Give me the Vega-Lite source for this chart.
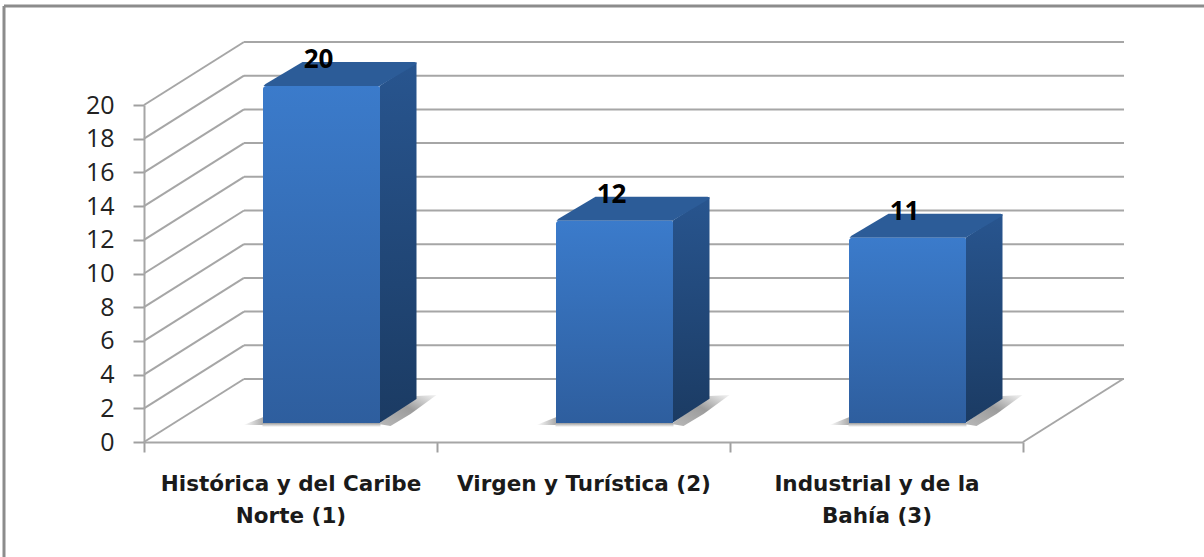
{
"$schema":"https://vega.github.io/schema/vega-lite/v6.json",
"width":879,"height":337,
"autosize":{"type":"none"},
"padding":{"left":144,"top":105,"right":181,"bottom":115},
"background":"white",
"config":{"view":{"stroke":null}},
"datasets":{
 "bars":[{"zona":"Histórica y del Caribe Norte (1)","valor":20},{"zona":"Virgen y Turística (2)","valor":12},{"zona":"Industrial y de la Bahía (3)","valor":11}],
 "ticks":[{"t":0},{"t":2},{"t":4},{"t":6},{"t":8},{"t":10},{"t":12},{"t":14},{"t":16},{"t":18},{"t":20}]
},
"data":{"name":"bars"},
"encoding":{
 "x":{"field":"zona","type":"nominal","sort":null,"scale":{"paddingInner":0,"paddingOuter":0},
   "axis":{"title":null,"labelAngle":0,"labelFont":"DejaVu Sans","labelFontSize":21.5,"labelFontWeight":"bold","labelColor":"#1a1a1a","labelLimit":400,"labelPadding":21,"labelLineHeight":32,"labelBaseline":"top","tickColor":"#a0a0a0","tickWidth":2,"tickSize":10,"domainColor":"#a6a6a6","domainWidth":2,"tickBand":"extent","labelExpr":"split(replace(replace(datum.label,' Norte','|Norte'),' Bahía','|Bahía'),'|')"}},
 "y":{"field":"valor","type":"quantitative","stack":null,"scale":{"domain":[0,20],"nice":false},
    "axis":{"title":null,"values":[0,2,4,6,8,10,12,14,16,18,20],"tickCount":11,"grid":false,"labelOverlap":false,"labelFont":"Open Sans","labelFontSize":25,"labelColor":"#222222","labelPadding":19,"tickColor":"#a0a0a0","tickWidth":2,"tickSize":11,"domainColor":"#a6a6a6","domainWidth":2}}
},
"layer":[
 {"data":{"name":"ticks"},
  "mark":{"type":"rule","color":"#a6a6a6","strokeWidth":2,"xOffset":100,"x2Offset":101,"yOffset":-63},
  "encoding":{"x":{"value":0},"x2":{"value":879},"y":{"field":"t","type":"quantitative"}}},
 {"data":{"name":"ticks"},
  "mark":{"type":"point","shape":"M0 0L100 -63","filled":false,"size":4,"stroke":"#a6a6a6","strokeWidth":2,"opacity":1},
  "encoding":{"x":{"value":0},"y":{"field":"t","type":"quantitative"}}},
 {"data":{"values":[{"t":0}]},
  "mark":{"type":"point","shape":"M0 0L100 -63","filled":false,"size":4,"stroke":"#a6a6a6","strokeWidth":2,"opacity":1},
  "encoding":{"x":{"value":879},"y":{"field":"t","type":"quantitative"}}},
 {"mark":{"type":"point","shape":"M-47 -17L-27 -25L-27 -17Z","size":4,"filled":true,"opacity":1,"strokeWidth":0,
   "fill":{"x1":0,"y1":0,"x2":1,"y2":0,"gradient":"linear","stops":[{"offset":0,"color":"#ffffff"},{"offset":1,"color":"#a8a8a8"}]}},
  "encoding":{"y":{"datum":0,"type":"quantitative"}}},
 {"mark":{"type":"point","shape":"M-28 -19L90 -19L90 -15L-28 -15Z","size":4,"filled":true,"opacity":1,"strokeWidth":0,
   "fill":{"x1":0,"y1":0,"x2":0,"y2":1,"gradient":"linear","stops":[{"offset":0,"color":"#9a9a9a"},{"offset":1,"color":"#ffffff"}]}},
  "encoding":{"y":{"datum":0,"type":"quantitative"}}},
 {"mark":{"type":"point","shape":"M88 -18L126 -46L146 -47L120 -28L100 -16Z","size":4,"filled":true,"opacity":1,"strokeWidth":0,
   "fill":{"x1":0,"y1":1,"x2":1,"y2":0,"gradient":"linear","stops":[{"offset":0,"color":"#b8b8b8"},{"offset":0.55,"color":"#9c9c9c"},{"offset":1,"color":"#f4f4f4"}]}},
  "encoding":{"y":{"datum":0,"type":"quantitative"}}},
 {"mark":{"type":"point","filled":true,"size":4,"opacity":1,"strokeWidth":0,
   "fill":{"x1":0,"y1":0,"x2":0,"y2":1,"gradient":"linear","stops":[{"offset":0,"color":"#28558f"},{"offset":1,"color":"#1b3b63"}]}},
  "encoding":{
   "shape":{"field":"zona","type":"nominal","sort":null,"legend":null,"scale":{"domain":["Histórica y del Caribe Norte (1)","Virgen y Turística (2)","Industrial y de la Bahía (3)"],"range":["M89 -19L126 -43L126 294L89 318Z","M89 -19L126 -43L126 159L89 183Z","M89 -19L126 -43L126 142L89 166Z"]}}}},
 {"mark":{"type":"point","shape":"M-27 -19L-25 -21L12 -43L124 -43Q126 -43 126 -41L89 -19Z","filled":true,"size":4,"opacity":1,"strokeWidth":0,"fill":"#2c5c98"},
  "encoding":{}},
 {"mark":{"type":"bar","size":117,"xOffset":31,"yOffset":-19,"y2Offset":-19,"cornerRadiusTopLeft":3,"cornerRadiusTopRight":2,
   "fill":{"x1":0,"y1":0,"x2":0,"y2":1,"gradient":"linear","stops":[{"offset":0,"color":"#3b7bcb"},{"offset":1,"color":"#2e5e9e"}]}},
  "encoding":{"y2":{"datum":0}}},
 {"mark":{"type":"text","font":"Open Sans","fontWeight":"bold","fontSize":26,"color":"#000000","dx":28,"dy":-45,"baseline":"middle"},
  "encoding":{"text":{"field":"valor","type":"quantitative"}}},
 {"data":{"values":[{"marco":1}]},
  "mark":{"type":"point","shape":"M-140 -99L1062 -99M-140 -99L-140 452","filled":false,"size":4,"stroke":"#8c8c8c","strokeWidth":3,"opacity":1},
  "encoding":{"x":{"value":0},"y":{"value":0}}}
]
}
